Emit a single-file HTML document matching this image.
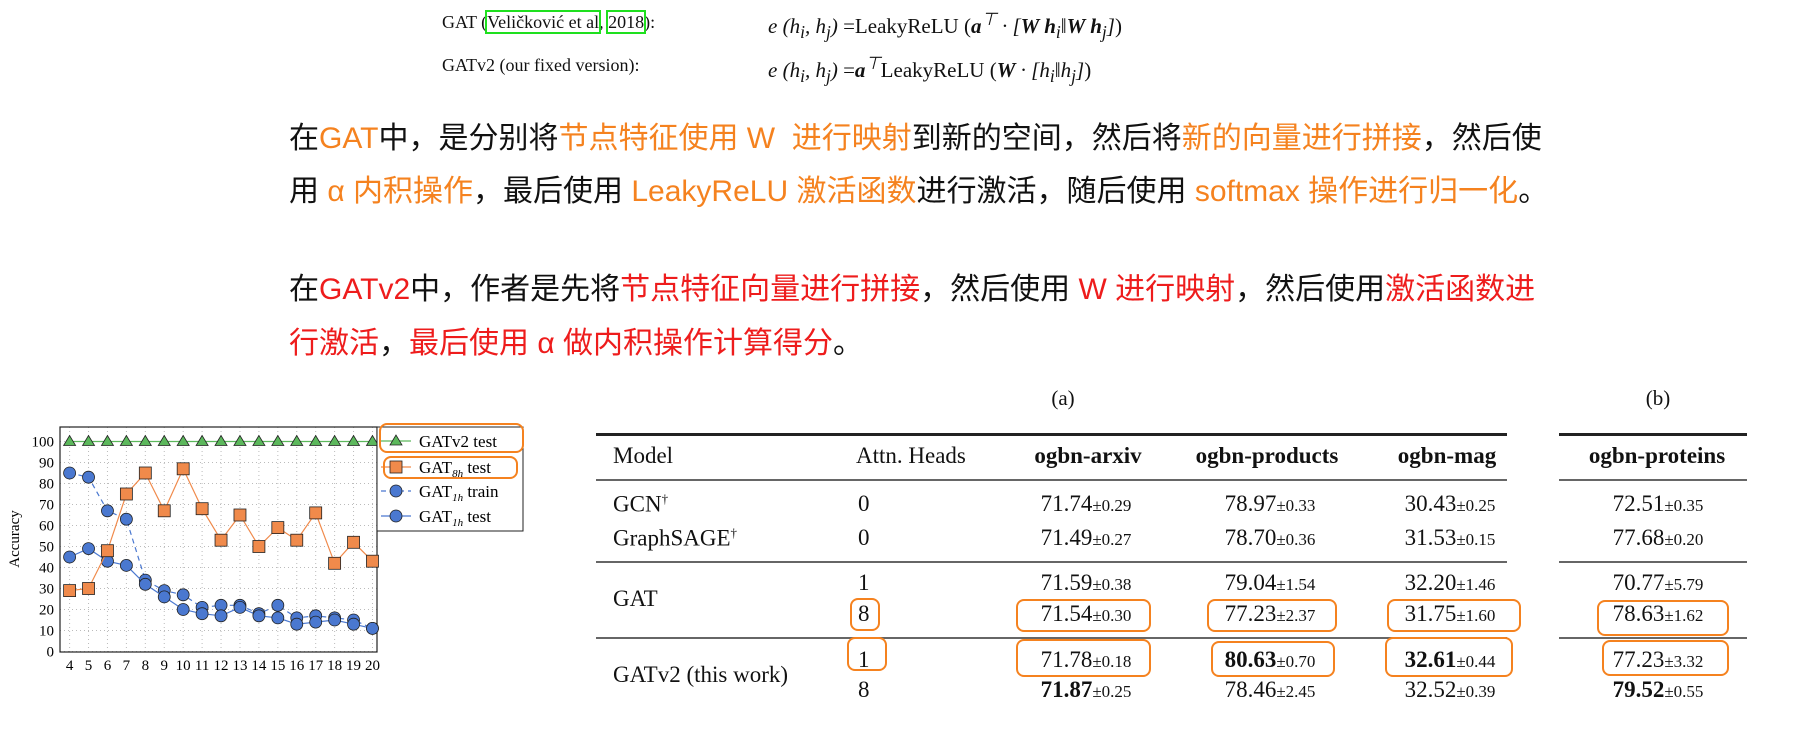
<!DOCTYPE html>
<html><head><meta charset="utf-8">
<style>
body{margin:0;width:1810px;height:737px;background:#fff;position:relative;overflow:hidden;font-family:"Liberation Serif",serif;color:#111}
.a{position:absolute;white-space:nowrap}
.zh{font-family:"Liberation Sans","Noto Sans CJK SC",sans-serif;font-size:30px;color:#111}
.o{color:#f5821f}.r{color:#ee1c1c}
.f{font-size:21px}
.c{transform:translateX(-50%);font-size:23px}
.c small{font-size:17px}
.b{font-weight:bold}
.box{position:absolute;border:2.5px solid #f5821f;border-radius:8px}
.rule{position:absolute;height:2px;background:#222}
</style></head><body>
<div class="a" style="left:442px;top:12px;font-size:18px">GAT (<span style="outline:2px solid #1ee01e">Veličković et al</span>, <span style="outline:2px solid #1ee01e">2018</span>):</div>
<div class="a f" style="left:768px;top:9px;font-style:italic">e (h<sub>i</sub>, h<sub>j</sub>) <span style="font-style:normal">=LeakyReLU (</span><b>a</b><sup>⊤</sup> · [<b>W h</b><sub>i</sub>‖<b>W h</b><sub>j</sub>]<span style="font-style:normal">)</span></div>
<div class="a" style="left:442px;top:55px;font-size:18px">GATv2 (our fixed version):</div>
<div class="a f" style="left:768px;top:53px;font-style:italic">e (h<sub>i</sub>, h<sub>j</sub>) <span style="font-style:normal">=</span><b>a</b><sup>⊤</sup><span style="font-style:normal">LeakyReLU (</span><b>W</b> · [h<sub>i</sub>‖h<sub>j</sub>]<span style="font-style:normal">)</span></div>

<div class="a zh" style="left:289px;top:113px">在<span class="o">GAT</span>中，是分别将<span class="o">节点特征使用 W&nbsp; 进行映射</span>到新的空间，然后将<span class="o">新的向量进行拼接</span>，然后使</div>
<div class="a zh" style="left:289px;top:166px">用 <span class="o">α 内积操作</span>，最后使用 <span class="o">LeakyReLU 激活函数</span>进行激活，随后使用 <span class="o">softmax 操作进行归一化</span>。</div>
<div class="a zh" style="left:289px;top:264px">在<span class="r">GATv2</span>中，作者是先将<span class="r">节点特征向量进行拼接</span>，然后使用 <span class="r">W 进行映射</span>，然后使用<span class="r">激活函数进</span></div>
<div class="a zh" style="left:289px;top:318px"><span class="r">行激活</span>，<span class="r">最后使用 α 做内积操作计算得分</span>。</div>

<svg class="a" style="left:0;top:0" width="540" height="737" id="chart"></svg>

<div class="box" style="left:379px;top:423px;width:141px;height:26px"></div>
<div class="box" style="left:383px;top:456px;width:131px;height:19px"></div>

<div class="a" style="left:1063px;top:386px;font-size:21px;transform:translateX(-50%)">(a)</div>
<div class="a" style="left:1658px;top:386px;font-size:21px;transform:translateX(-50%)">(b)</div>
<div class="rule" style="left:596px;top:433px;width:911px;height:3px"></div>
<div class="rule" style="left:1559px;top:433px;width:188px;height:3px"></div>
<div class="rule" style="left:596px;top:479px;width:911px;background:#666"></div>
<div class="rule" style="left:1559px;top:479px;width:188px;background:#666"></div>
<div class="rule" style="left:596px;top:561px;width:911px;background:#666"></div>
<div class="rule" style="left:1559px;top:561px;width:188px;background:#666"></div>
<div class="rule" style="left:596px;top:637px;width:911px;background:#666"></div>
<div class="rule" style="left:1559px;top:637px;width:188px;background:#666"></div>

<div class="a" style="left:613px;top:443px;font-size:23px">Model</div>
<div class="a" style="left:856px;top:443px;font-size:23px">Attn. Heads</div>
<div class="a c b" style="left:1088px;top:443px">ogbn-arxiv</div>
<div class="a c b" style="left:1267px;top:443px">ogbn-products</div>
<div class="a c b" style="left:1447px;top:443px">ogbn-mag</div>
<div class="a c b" style="left:1657px;top:443px">ogbn-proteins</div>

<div class="a" style="left:613px;top:491px;font-size:23px">GCN<sup style="font-size:13px">†</sup></div>
<div class="a" style="left:613px;top:525px;font-size:23px">GraphSAGE<sup style="font-size:13px">†</sup></div>
<div class="a" style="left:613px;top:586px;font-size:23px">GAT</div>
<div class="a" style="left:613px;top:662px;font-size:23px">GATv2 (this work)</div>

<div id="cells"></div>

<div class="box" style="left:850px;top:598px;width:26px;height:29px"></div>
<div class="box" style="left:1016px;top:599px;width:131px;height:29px"></div>
<div class="box" style="left:1207px;top:599px;width:126px;height:29px"></div>
<div class="box" style="left:1387px;top:599px;width:130px;height:29px"></div>
<div class="box" style="left:1597px;top:600px;width:128px;height:32px"></div>
<div class="box" style="left:847px;top:637px;width:36px;height:30px"></div>
<div class="box" style="left:1016px;top:639px;width:131px;height:34px"></div>
<div class="box" style="left:1211px;top:641px;width:120px;height:32px"></div>
<div class="box" style="left:1385px;top:637px;width:124px;height:36px"></div>
<div class="box" style="left:1602px;top:640px;width:123px;height:32px"></div>

<script>
const xs=[4,5,6,7,8,9,10,11,12,13,14,15,16,17,18,19,20];
const gatv2Test=[100,100,100,100,100,100,100,100,100,100,100,100,100,100,100,100,100];
const gat8hTest=[29,30,48,75,85,67,87,68,53,65,50,59,53,66,42,52,43];
const gat1hTrain=[85,83,67,63,34,29,27,21,22,22,18,22,16,17,16,15,11];
const gat1hTest=[45,49,43,41,32,26,20,18,17,21,17,16,13,14,15,13,11];
const yTicks=[0,10,20,30,40,50,60,70,80,90,100];

const svg=document.getElementById('chart');
const NS='http://www.w3.org/2000/svg';
const X=v=>69.6+(v-4)*18.93;
const Y=v=>651.5-v*2.1;
function mk(t,a){const e=document.createElementNS(NS,t);for(const k in a)e.setAttribute(k,a[k]);svg.appendChild(e);return e;}
xs.forEach(v=>{const l=mk('line',{x1:X(v),x2:X(v),y1:427,y2:652,stroke:'#bbb','stroke-dasharray':'1,3'});


const t=mk('text',{x:X(v),y:670,'font-size':15,'text-anchor':'middle','font-family':'Liberation Serif'});t.textContent=v;

});
yTicks.forEach(v=>{const l=mk('line',{x1:60,x2:377,y1:Y(v),y2:Y(v),stroke:'#bbb','stroke-dasharray':'1,3'});


const t=mk('text',{x:54,y:Y(v)+5,'font-size':15,'text-anchor':'end','font-family':'Liberation Serif'});t.textContent=v;

});
const fr=mk('rect',{x:60,y:427,width:317,height:225,fill:'none',stroke:'#222','stroke-width':1.2});


const yl=mk('text',{x:0,y:0,'font-size':15,'text-anchor':'middle','font-family':'Liberation Serif',transform:'translate(19,539) rotate(-90)'});yl.textContent='Accuracy';



function series(vals,color,dash,marker,name){
 const p=mk('polyline',{points:vals.map((v,i)=>X(xs[i])+','+Y(v)).join(' '),fill:'none',stroke:color,'stroke-width':1.2,'stroke-dasharray':dash||'none'});
 
 
 vals.forEach((v,i)=>drawMarker(X(xs[i]),Y(v),marker,name+'-point'));
}
function drawMarker(x,y,m,name){
 let e;
 if(m==='tri') e=mk('polygon',{points:`${x},${y-6} ${x-6},${y+4} ${x+6},${y+4}`,fill:'#5cb85c',stroke:'#222','stroke-width':0.8});
 else if(m==='sq') e=mk('rect',{x:x-6,y:y-6,width:12,height:12,fill:'#f08a4b',stroke:'#222','stroke-width':0.8});
 else e=mk('circle',{cx:x,cy:y,r:6,fill:'#4a78d0',stroke:'#222','stroke-width':0.8});
 
 
}
series(gat1hTrain,'#4a78d0','5,4','circ','gat1h-train');
series(gat1hTest,'#4a78d0','','circ','gat1h-test');
series(gat8hTest,'#f08a4b','','sq','gat8h-test');
series(gatv2Test,'#5cb85c','','tri','gatv2-test');
const lg=mk('rect',{x:377,y:427,width:146,height:104,fill:'#fff',stroke:'#222','stroke-width':1});


const leg=[['GATv2 test','#5cb85c','','tri',441],['GAT','#f08a4b','','sq',467,'8h',' test'],['GAT','#4a78d0','5,4','circ',491,'1h',' train'],['GAT','#4a78d0','','circ',516,'1h',' test']];
leg.forEach(L=>{
 const l=mk('line',{x1:381,x2:411,y1:L[4],y2:L[4],stroke:L[1],'stroke-width':1.2,'stroke-dasharray':L[2]||'none'});
 
 
 drawMarker(396,L[4],L[3],'legend-marker');
 const t=mk('text',{x:419,y:L[4]+6,'font-size':17,'font-family':'Liberation Serif'});
 
 
 if(L[5]){t.innerHTML=L[0]+'<tspan font-size="11" font-style="italic" dy="4">'+L[5]+'</tspan><tspan dy="-4">'+L[6]+'</tspan>';}
 else t.textContent=L[0];
});

const rowsY=[491,525,570,601,647,677];
const heads=['0','0','1','8','1','8'];
const colX=[1086,1270,1450,1658];
const vals=[
 [['71.74','0.29'],['78.97','0.33'],['30.43','0.25'],['72.51','0.35']],
 [['71.49','0.27'],['78.70','0.36'],['31.53','0.15'],['77.68','0.20']],
 [['71.59','0.38'],['79.04','1.54'],['32.20','1.46'],['70.77','5.79']],
 [['71.54','0.30'],['77.23','2.37'],['31.75','1.60'],['78.63','1.62']],
 [['71.78','0.18'],['80.63','0.70',1],['32.61','0.44',1],['77.23','3.32']],
 [['71.87','0.25',1],['78.46','2.45'],['32.52','0.39'],['79.52','0.55',1]]];
const cells=document.getElementById('cells');
rowsY.forEach((y,r)=>{
 const h=document.createElement('div');h.className='a';h.style.cssText=`left:858px;top:${y}px;font-size:23px`;h.textContent=heads[r];
 
 
 cells.appendChild(h);
 vals[r].forEach((v,c)=>{
  const d=document.createElement('div');d.className='a c';d.style.left=colX[c]+'px';d.style.top=y+'px';
  d.innerHTML=(v[2]?'<b>'+v[0]+'</b>':v[0])+'<small>±'+v[1]+'</small>';
  
  
  cells.appendChild(d);
 });
});
</script>
</body></html>
